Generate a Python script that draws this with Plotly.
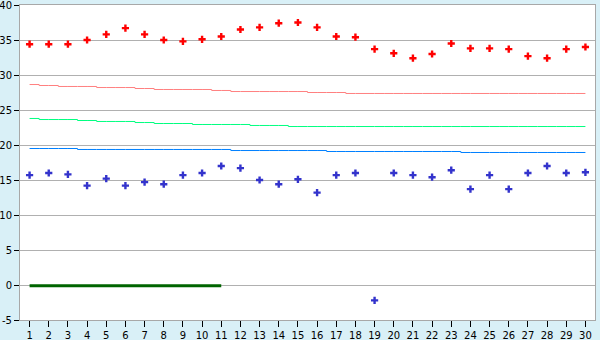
import plotly.graph_objects as go

days = list(range(1, 31))

red_points = [34.4, 34.4, 34.4, 35.0, 35.8, 36.7, 35.8, 35.0, 34.8, 35.1,
              35.5, 36.5, 36.8, 37.4, 37.5, 36.8, 35.5, 35.4, 33.7, 33.1,
              32.4, 33.0, 34.5, 33.8, 33.8, 33.7, 32.7, 32.4, 33.7, 34.0]

blue_points = [15.7, 16.0, 15.8, 14.2, 15.2, 14.2, 14.7, 14.4, 15.7, 16.0,
               17.0, 16.7, 15.0, 14.4, 15.1, 13.2, 15.7, 16.0, -2.2, 16.0,
               15.7, 15.4, 16.4, 13.7, 15.7, 13.7, 16.0, 17.0, 16.0, 16.1]

pink_line = [28.64, 28.5, 28.36, 28.36, 28.21, 28.21, 28.07, 27.93, 27.93, 27.93,
             27.79, 27.64, 27.64, 27.64, 27.64, 27.5, 27.5, 27.36, 27.36, 27.36,
             27.36, 27.36, 27.36, 27.36, 27.36, 27.36, 27.36, 27.36, 27.36, 27.36]

green_line = [23.79, 23.64, 23.64, 23.5, 23.36, 23.36, 23.21, 23.07, 23.07, 22.93,
              22.93, 22.93, 22.79, 22.79, 22.64, 22.64, 22.64, 22.64, 22.64, 22.64,
              22.64, 22.64, 22.64, 22.64, 22.64, 22.64, 22.64, 22.64, 22.64, 22.64]

blue_line = [19.5, 19.5, 19.5, 19.36, 19.36, 19.36, 19.36, 19.36, 19.36, 19.36,
             19.36, 19.21, 19.21, 19.21, 19.21, 19.21, 19.07, 19.07, 19.07, 19.07,
             19.07, 19.07, 19.07, 18.93, 18.93, 18.93, 18.93, 18.93, 18.93, 18.93]

zero_days = list(range(1, 12))
zero_line = [-0.1] * 11

y_ticks = list(range(-5, 45, 5))

fig = go.Figure()

fig.add_trace(go.Scatter(x=days, y=pink_line, mode="lines", line_shape="hvh",
                         line=dict(color="#ff8080", width=1)))
fig.add_trace(go.Scatter(x=days, y=green_line, mode="lines", line_shape="hvh",
                         line=dict(color="#00ff80", width=1)))
fig.add_trace(go.Scatter(x=days, y=blue_line, mode="lines", line_shape="hvh",
                         line=dict(color="#0080ff", width=1)))
fig.add_trace(go.Scatter(x=zero_days, y=zero_line, mode="lines",
                         line=dict(color="#006400", width=3)))
fig.add_trace(go.Scatter(x=days, y=red_points, mode="markers",
                         marker=dict(symbol="cross", size=6, color="#ff0000",
                                     line=dict(width=0))))
fig.add_trace(go.Scatter(x=days, y=blue_points, mode="markers",
                         marker=dict(symbol="cross", size=6, color="#3333cc",
                                     line=dict(width=0))))

font = dict(family="Verdana, DejaVu Sans, sans-serif", size=10, color="#000000")

fig.update_layout(
    width=600, height=340,
    margin=dict(l=20, r=5, t=5, b=20, autoexpand=False),
    paper_bgcolor="#d9f0f7",
    plot_bgcolor="#ffffff",
    showlegend=False,
    font=font,
    xaxis=dict(range=[0.5, 30.5], tickmode="array", tickvals=days,
               ticktext=[str(d) for d in days], ticks="outside", ticklen=6,
               tickcolor="#000000", showgrid=False, zeroline=False,
               showline=True, linecolor="#a8a8a8", linewidth=1, mirror=True,
               tickfont=font, fixedrange=True, automargin=False,
               ticklabeloverflow="allow"),
    yaxis=dict(range=[-5.0001, 40.0001], tickmode="array", tickvals=y_ticks,
               ticktext=[str(v) for v in y_ticks],
               ticks="outside", ticklen=5, tickcolor="#000000",
               showgrid=True, gridcolor="#b0b0b0", gridwidth=1,
               zeroline=False, showline=True, linecolor="#a8a8a8",
               linewidth=1, mirror=True, tickfont=font, fixedrange=True,
               automargin=False, ticklabeloverflow="allow"),
)

fig.write_html("out.html")
